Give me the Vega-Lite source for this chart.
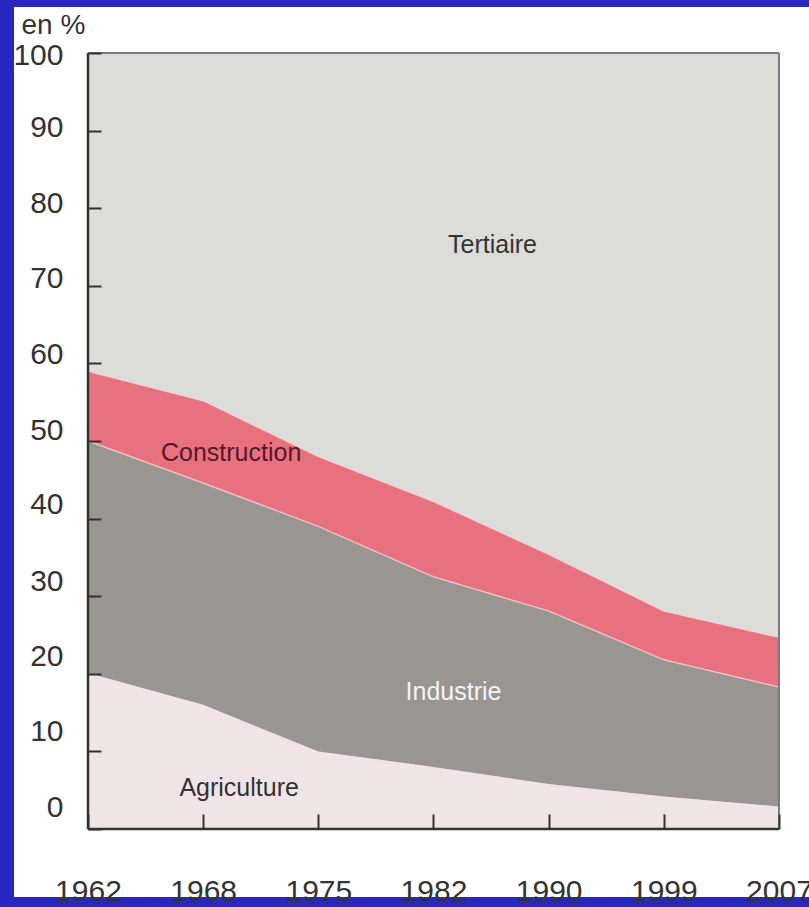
{
  "$schema": "https://vega.github.io/schema/vega-lite/v6.json",
  "description": "Part de l'emploi par secteur, 1962-2007 (en %).",
  "autosize": {"type": "none"},
  "width": 795,
  "height": 890,
  "padding": {"left": 14, "top": 7, "right": 0, "bottom": 10},
  "background": "#2828c0",
  "config": {
    "view": {"fill": "white", "stroke": null},
    "font": "Liberation Sans"
  },
  "datasets": {
    "sectors": [
      {"sector": "Agriculture", "rank": 1},
      {"sector": "Industrie", "rank": 2},
      {"sector": "Construction", "rank": 3},
      {"sector": "Tertiaire", "rank": 4}
    ]
  },
  "data": {
    "values": [
      {"year": 1962, "sector": "Agriculture", "share": 20.1},
      {"year": 1968, "sector": "Agriculture", "share": 16.0},
      {"year": 1975, "sector": "Agriculture", "share": 10.0},
      {"year": 1982, "sector": "Agriculture", "share": 8.0},
      {"year": 1990, "sector": "Agriculture", "share": 5.8},
      {"year": 1999, "sector": "Agriculture", "share": 4.2},
      {"year": 2007, "sector": "Agriculture", "share": 2.9},
      {"year": 1962, "sector": "Industrie", "share": 29.9},
      {"year": 1968, "sector": "Industrie", "share": 28.6},
      {"year": 1975, "sector": "Industrie", "share": 29.0},
      {"year": 1982, "sector": "Industrie", "share": 24.5},
      {"year": 1990, "sector": "Industrie", "share": 22.3},
      {"year": 1999, "sector": "Industrie", "share": 17.6},
      {"year": 2007, "sector": "Industrie", "share": 15.4},
      {"year": 1962, "sector": "Construction", "share": 9.0},
      {"year": 1968, "sector": "Construction", "share": 10.6},
      {"year": 1975, "sector": "Construction", "share": 9.0},
      {"year": 1982, "sector": "Construction", "share": 9.7},
      {"year": 1990, "sector": "Construction", "share": 7.3},
      {"year": 1999, "sector": "Construction", "share": 6.3},
      {"year": 2007, "sector": "Construction", "share": 6.4},
      {"year": 1962, "sector": "Tertiaire", "share": 41.0},
      {"year": 1968, "sector": "Tertiaire", "share": 44.8},
      {"year": 1975, "sector": "Tertiaire", "share": 52.0},
      {"year": 1982, "sector": "Tertiaire", "share": 57.8},
      {"year": 1990, "sector": "Tertiaire", "share": 64.6},
      {"year": 1999, "sector": "Tertiaire", "share": 71.9},
      {"year": 2007, "sector": "Tertiaire", "share": 75.3}
    ]
  },
  "layer": [
    {
      "transform": [
        {"lookup": "sector", "from": {"data": {"name": "sectors"}, "key": "sector", "fields": ["rank"]}}
      ],
      "mark": {"type": "area"},
      "encoding": {
        "x": {
          "field": "year",
          "type": "ordinal",
          "scale": {"type": "point", "padding": 0.4515, "align": 0.7115},
          "axis": {
            "title": null,
            "zindex": 1,
            "offset": -68,
            "domain": false,
            "grid": false,
            "tickColor": "#333333",
            "tickWidth": 2,
            "tickSize": -15,
            "labelAngle": 0,
            "labelFontSize": 30,
            "labelColor": "#333333",
            "labelPadding": 62,
            "labelBaseline": "top",
            "labelOverlap": false,
            "labelBound": false,
            "labelFlush": false
          }
        },
        "y": {
          "field": "share",
          "type": "quantitative",
          "stack": "zero",
          "scale": {"domain": [-8.76, 105.93], "nice": false, "zero": false},
          "axis": {
            "values": [0, 10, 20, 30, 40, 50, 60, 70, 80, 90, 100],
            "zindex": 1,
            "offset": -74,
            "domain": false,
            "grid": false,
            "tickColor": "#333333",
            "tickWidth": 2,
            "tickSize": -13,
            "labelFontSize": 30,
            "labelColor": "#333333",
            "labelPadding": 38,
            "labelOffset": {
              "condition": [
                {"test": "datum.value <= 0", "value": -22},
                {"test": "datum.value <= 10", "value": -20},
                {"test": "datum.value <= 20", "value": -17},
                {"test": "datum.value <= 30", "value": -15},
                {"test": "datum.value <= 40", "value": -14},
                {"test": "datum.value <= 50", "value": -11},
                {"test": "datum.value <= 60", "value": -9},
                {"test": "datum.value <= 70", "value": -7},
                {"test": "datum.value <= 80", "value": -5},
                {"test": "datum.value <= 90", "value": -3}
              ],
              "value": 2
            },
            "title": "en %",
            "titleAngle": 0,
            "titleAlign": "left",
            "titleBaseline": "middle",
            "titleX": -67,
            "titleY": 18,
            "titleFontSize": 28,
            "titleFontWeight": "normal",
            "titleColor": "#333333"
          }
        },
        "color": {
          "field": "sector",
          "type": "nominal",
          "scale": {
            "domain": ["Agriculture", "Industrie", "Construction", "Tertiaire"],
            "range": ["#f1e4e6", "#999691", "#e8717f", "#dcdcd8"]
          },
          "legend": null
        },
        "order": {"field": "rank", "type": "quantitative", "sort": "ascending"}
      }
    },
    {
      "transform": [
        {"lookup": "sector", "from": {"data": {"name": "sectors"}, "key": "sector", "fields": ["rank"]}},
        {"filter": "datum.sector != 'Tertiaire'"},
        {"stack": "share", "groupby": ["year"], "sort": [{"field": "rank", "order": "ascending"}], "as": ["lo", "hi"]},
        {"filter": "datum.sector != 'Agriculture'"}
      ],
      "mark": {"type": "line", "color": "#f7d3d8", "strokeWidth": 1.5, "opacity": 0.7},
      "encoding": {
        "x": {"field": "year", "type": "ordinal"},
        "y": {"field": "hi", "type": "quantitative"},
        "detail": {"field": "sector"}
      }
    },
    {
      "data": {"values": [{}]},
      "mark": {"type": "rule", "color": "#333333", "strokeWidth": 2.5},
      "encoding": {
        "x": {"datum": 1962, "type": "ordinal"},
        "y": {"datum": 0, "type": "quantitative"},
        "y2": {"datum": 100}
      }
    },
    {
      "data": {"values": [{}]},
      "mark": {"type": "rule", "color": "#333333", "strokeWidth": 2.5},
      "encoding": {
        "x": {"datum": 1962, "type": "ordinal"},
        "x2": {"datum": 2007},
        "y": {"datum": 0, "type": "quantitative"}
      }
    },
    {
      "data": {"values": [{}]},
      "mark": {"type": "rule", "color": "#7a7a7a", "strokeWidth": 2},
      "encoding": {
        "x": {"datum": 1962, "type": "ordinal"},
        "x2": {"datum": 2007},
        "y": {"datum": 100, "type": "quantitative"}
      }
    },
    {
      "data": {"values": [{}]},
      "mark": {"type": "rule", "color": "#7a7a7a", "strokeWidth": 2},
      "encoding": {
        "x": {"datum": 2007, "type": "ordinal"},
        "y": {"datum": 0, "type": "quantitative"},
        "y2": {"datum": 100}
      }
    },
    {
      "data": {"values": [{}]},
      "mark": {"type": "text", "fontSize": 25, "color": "#333333", "dx": 59},
      "encoding": {
        "x": {"datum": 1982, "type": "ordinal"},
        "y": {"datum": 75.3, "type": "quantitative"},
        "text": {"value": "Tertiaire"}
      }
    },
    {
      "data": {"values": [{}]},
      "mark": {"type": "text", "fontSize": 25, "color": "#5a1828", "dx": 28},
      "encoding": {
        "x": {"datum": 1968, "type": "ordinal"},
        "y": {"datum": 48.5, "type": "quantitative"},
        "text": {"value": "Construction"}
      }
    },
    {
      "data": {"values": [{}]},
      "mark": {"type": "text", "fontSize": 25, "color": "#f4f4f4", "dx": 20},
      "encoding": {
        "x": {"datum": 1982, "type": "ordinal"},
        "y": {"datum": 17.7, "type": "quantitative"},
        "text": {"value": "Industrie"}
      }
    },
    {
      "data": {"values": [{}]},
      "mark": {"type": "text", "fontSize": 25, "color": "#333333", "dx": 36},
      "encoding": {
        "x": {"datum": 1968, "type": "ordinal"},
        "y": {"datum": 5.3, "type": "quantitative"},
        "text": {"value": "Agriculture"}
      }
    }
  ]
}
